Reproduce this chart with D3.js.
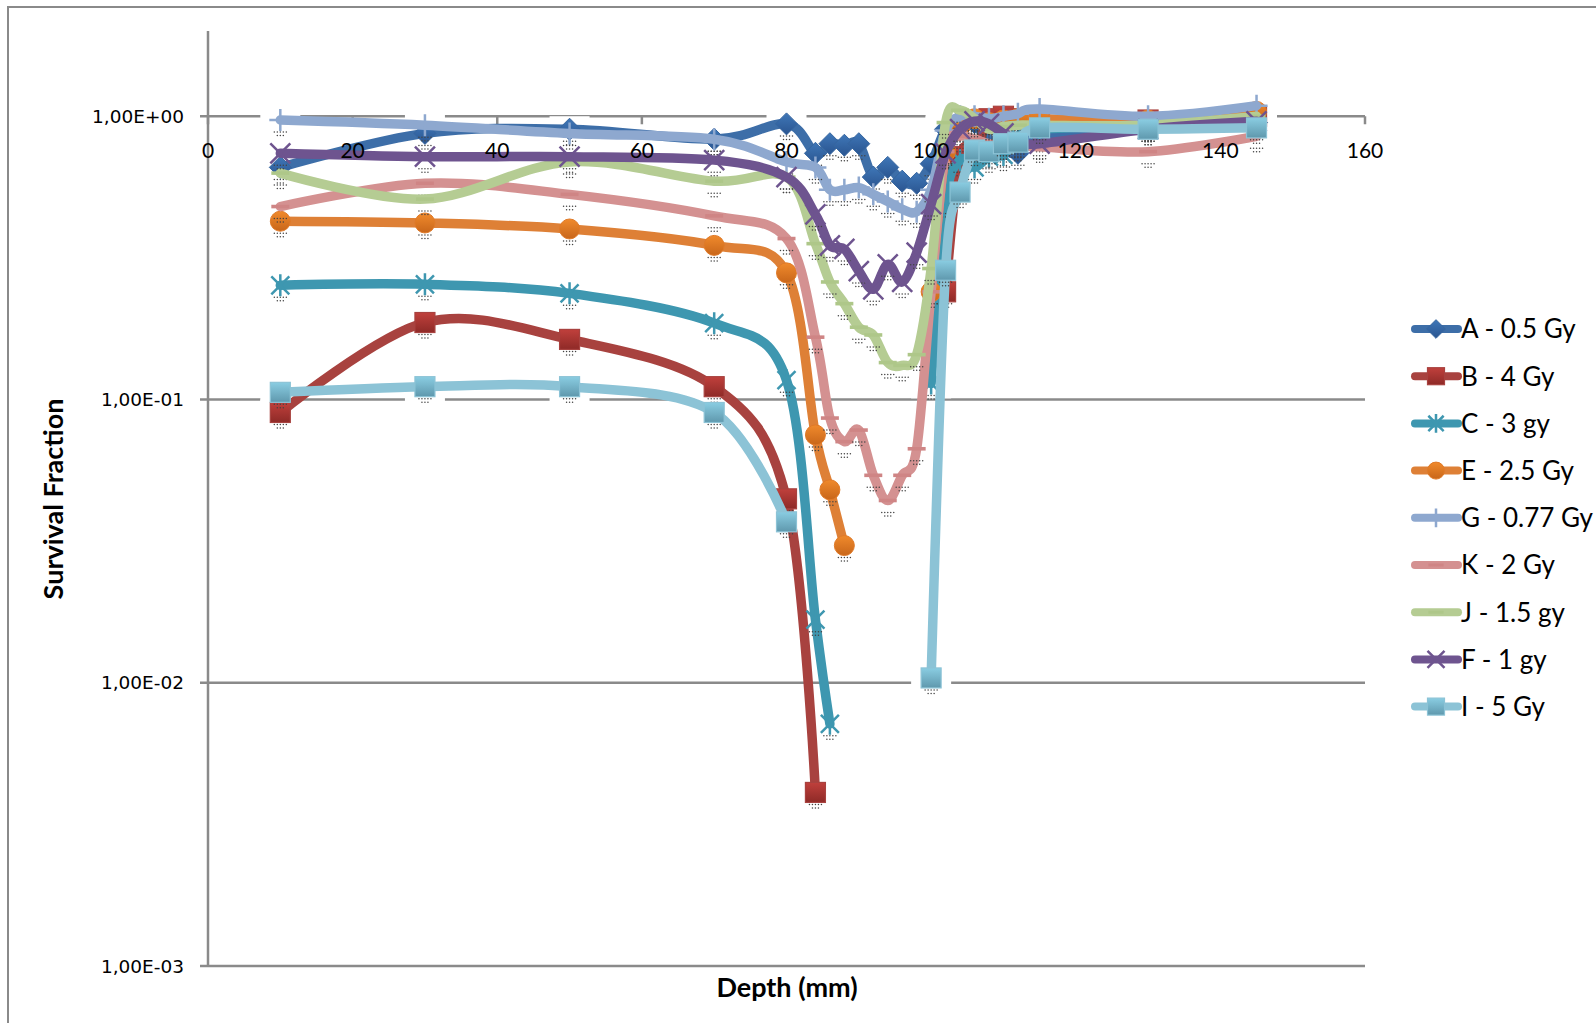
<!DOCTYPE html>
<html>
<head>
<meta charset="utf-8">
<script src="https://cdn.jsdelivr.net/npm/d3@7"></script>
<style>
  body { margin: 0; background: #fff; }
  svg { display: block; }
</style>
</head>
<body>
<div id="chart"></div>
<script>
// depth values (mm) shared by all series; null = no measurement
const depths = [10, 30, 50, 70, 80, 84, 86, 88, 90, 92, 94, 96, 98, 100, 102, 104, 106, 108, 110, 112, 115, 130, 145];

const valuesA = [0.66, 0.87, 0.90, 0.83, 0.94, 0.74, 0.80, 0.79, 0.80, 0.61, 0.66, 0.59, 0.58, 0.68, 0.90, 0.97, 0.95, 0.80, 0.76, 0.74, 0.85, 0.92, 0.95];
const valuesB = [0.090, 0.187, 0.163, 0.111, 0.0446, 0.0041, null, null, null, null, null, null, null, null, 0.24, 0.72, 0.75, 0.98, 1.0, 0.98, 0.97, 0.97, 1.0];
const valuesC = [0.253, 0.255, 0.237, 0.186, 0.117, 0.0167, 0.00716, null, null, null, null, null, null, 0.114, 0.5, 0.7, 0.66, 0.72, 0.73, 0.85, 0.9, 0.93, 0.95];
const valuesE = [0.426, 0.42, 0.40, 0.35, 0.28, 0.075, 0.048, 0.0305, null, null, null, null, null, 0.24, 0.75, 0.92, 0.98, 0.95, 0.97, 0.98, 0.98, 0.97, 1.04];
const valuesG = [0.97, 0.93, 0.87, 0.83, 0.69, 0.66, 0.55, 0.55, 0.56, 0.53, 0.50, 0.47, 0.46, 0.55, 0.89, 1.0, 1.0, 0.98, 1.0, 1.02, 1.06, 1.0, 1.09];
const valuesK = [0.48, 0.58, 0.53, 0.445, 0.37, 0.166, 0.086, 0.071, 0.078, 0.054, 0.044, 0.054, 0.067, 0.24, 0.75, 0.85, 0.83, 0.80, 0.80, 0.79, 0.78, 0.75, 0.85];
const valuesJ = [0.63, 0.51, 0.69, 0.59, 0.61, 0.355, 0.26, 0.218, 0.18, 0.169, 0.135, 0.132, 0.144, 0.29, 0.95, 1.05, 0.98, 0.90, 0.92, 0.93, 0.93, 0.93, 1.0];
const valuesF = [0.74, 0.72, 0.72, 0.70, 0.61, 0.45, 0.35, 0.34, 0.284, 0.245, 0.30, 0.26, 0.33, 0.49, 0.74, 0.90, 0.96, 0.94, 0.87, 0.82, 0.80, 0.90, 0.96];
const valuesI = [0.106, 0.111, 0.111, 0.09, 0.037, null, null, null, null, null, null, null, null, 0.0104, 0.286, 0.54, 0.76, 0.75, 0.80, 0.81, 0.91, 0.90, 0.91];

const seriesNames = ["A - 0.5 Gy", "B - 4 Gy", "C - 3 gy", "E - 2.5 Gy", "G - 0.77 Gy", "K - 2 Gy", "J - 1.5 gy", "F - 1 gy", "I - 5 Gy"];
const yTicks = [1, 0.1, 0.01, 0.001];
const xTicks = [0, 20, 40, 60, 80, 100, 120, 140, 160];

const series = [
  { name: seriesNames[0], values: valuesA, color: "#3d6ea8", marker: "diamond", fill: ["#3f77b8", "#2a5590"] },
  { name: seriesNames[1], values: valuesB, color: "#a8423f", marker: "square", fill: ["#c0403c", "#8e2a27"] },
  { name: seriesNames[2], values: valuesC, color: "#3e97b0", marker: "asterisk" },
  { name: seriesNames[3], values: valuesE, color: "#de8036", marker: "circle", fill: ["#f08a2c", "#c8661a"] },
  { name: seriesNames[4], values: valuesG, color: "#8ea8cf", marker: "plus" },
  { name: seriesNames[5], values: valuesK, color: "#d49191", marker: "dash", fill: ["#cf8585", "#cf8585"] },
  { name: seriesNames[6], values: valuesJ, color: "#b5cc93", marker: "dash", fill: ["#aec789", "#aec789"] },
  { name: seriesNames[7], values: valuesF, color: "#6e548f", marker: "x" },
  { name: seriesNames[8], values: valuesI, color: "#8cc3d6", marker: "square", fill: ["#8acde2", "#5f98ad"] }
];

const W = 1596, H = 1023;
const svg = d3.select("#chart").append("svg")
  .attr("width", W).attr("height", H);

// outer chart border
svg.append("rect")
  .attr("x", 8).attr("y", 7)
  .attr("width", W + 20).attr("height", H + 20)
  .attr("fill", "#fff")
  .attr("stroke", "#8a8a8a")
  .attr("stroke-width", 2);

const x = d3.scaleLinear().domain([0, 160]).range([208, 1365]);
const y = d3.scaleLog().domain([0.001, 2]).range([966, 31]);

const defs = svg.append("defs");
series.forEach((s, i) => {
  if (!s.fill) return;
  const g = defs.append("linearGradient").attr("id", "grad" + i)
    .attr("x1", 0).attr("y1", 0).attr("x2", 0).attr("y2", 1);
  g.append("stop").attr("offset", "0%").attr("stop-color", s.fill[0]);
  g.append("stop").attr("offset", "100%").attr("stop-color", s.fill[1]);
});

const gridColor = "#8a8a8a";

// horizontal gridlines
svg.append("g").selectAll("line")
  .data(yTicks)
  .enter().append("line")
  .attr("x1", 200).attr("x2", x(160))
  .attr("y1", d => y(d)).attr("y2", d => y(d))
  .attr("stroke", gridColor)
  .attr("stroke-width", 2.5);

// y axis line
svg.append("line")
  .attr("x1", x(0)).attr("x2", x(0))
  .attr("y1", y(2)).attr("y2", y(0.001))
  .attr("stroke", gridColor)
  .attr("stroke-width", 2.5);

// y tick labels
const fmt = v => {
  const e = Math.round(Math.log10(v));
  return "1,00E" + (e < 0 ? "-" : "+") + String(Math.abs(e)).padStart(2, "0");
};
svg.append("g").selectAll("text")
  .data(yTicks)
  .enter().append("text")
  .attr("x", 184)
  .attr("y", d => y(d))
  .attr("dy", "0.36em")
  .attr("text-anchor", "end")
  .style("font-family", "'DejaVu Sans', Verdana, sans-serif")
  .style("font-size", "18.5px")
  .style("fill", "#000")
  .text(fmt);

// x axis (crosses at 1)
const xAxisY = y(1);
svg.append("g").selectAll("line")
  .data(xTicks)
  .enter().append("line")
  .attr("x1", d => x(d)).attr("x2", d => x(d))
  .attr("y1", xAxisY).attr("y2", xAxisY + 8)
  .attr("stroke", gridColor)
  .attr("stroke-width", 2.5);

// white areas round each marker (hide the gridlines there)
const halo = svg.append("g");
series.forEach(s => {
  halo.selectAll(null)
    .data(depths.map((d, i) => ({ d, v: s.values[i] })).filter(p => p.v != null))
    .enter().append("rect")
    .attr("x", p => x(p.d) - 20)
    .attr("y", p => y(p.v) - 13)
    .attr("width", 40)
    .attr("height", 28)
    .attr("fill", "#fff");
});

const line = d3.line()
  .defined(p => p.v != null)
  .x(p => x(p.d))
  .y(p => y(p.v))
  .curve(d3.curveCardinal.tension(0));

function drawMarker(g, s, i, scale) {
  const k = scale || 1;
  switch (s.marker) {
    case "diamond":
      g.append("path").attr("d", `M0,${-11 * k}L${11 * k},0L0,${11 * k}L${-11 * k},0Z`)
        .attr("fill", `url(#grad${i})`).attr("stroke", "#35659f").attr("stroke-width", 1);
      break;
    case "square":
      g.append("rect").attr("x", -10 * k).attr("y", -10 * k)
        .attr("width", 20 * k).attr("height", 20 * k)
        .attr("fill", `url(#grad${i})`).attr("stroke", s.color).attr("stroke-width", 1.2);
      break;
    case "circle":
      g.append("circle").attr("r", 10 * k)
        .attr("fill", `url(#grad${i})`).attr("stroke", "#e07a28").attr("stroke-width", 1);
      break;
    case "dash":
      g.append("rect").attr("x", -9 * k).attr("y", -1.8 * k)
        .attr("width", 18 * k).attr("height", 3.6 * k)
        .attr("fill", `url(#grad${i})`);
      break;
    case "asterisk":
      g.append("path")
        .attr("d", `M${-9 * k},${-9 * k}L${9 * k},${9 * k}M${9 * k},${-9 * k}L${-9 * k},${9 * k}M0,${-11 * k}L0,${11 * k}`)
        .attr("stroke", s.color).attr("stroke-width", 2.5).attr("fill", "none");
      break;
    case "x":
      g.append("path")
        .attr("d", `M${-10 * k},${-10 * k}L${10 * k},${10 * k}M${10 * k},${-10 * k}L${-10 * k},${10 * k}`)
        .attr("stroke", s.color).attr("stroke-width", 2.5).attr("fill", "none");
      break;
    case "plus":
      g.append("path")
        .attr("d", `M0,${-11 * k}L0,${11 * k}M${-11 * k},0L${11 * k},0`)
        .attr("stroke", s.color).attr("stroke-width", 2.5).attr("fill", "none");
      break;
  }
}

// series, first drawn at the bottom
const plot = svg.append("g");
series.forEach((s, i) => {
  const pts = depths.map((d, j) => ({ d, v: s.values[j] }));
  plot.append("path")
    .datum(pts)
    .attr("fill", "none")
    .attr("stroke", s.color)
    .attr("stroke-width", 9.5)
    .attr("stroke-linecap", "round")
    .attr("stroke-linejoin", "round")
    .attr("d", line);

  pts.filter(p => p.v != null).forEach(p => {
    const mg = plot.append("g").attr("transform", `translate(${x(p.d)},${y(p.v)})`);
    // dotted shadow below the marker
    [-6, -3, 0, 3, 6].forEach(dx => mg.append("circle").attr("cx", dx).attr("cy", 12).attr("r", 0.75).attr("fill", "#444"));
    [-3, 0, 3].forEach(dx => mg.append("circle").attr("cx", dx).attr("cy", 15.5).attr("r", 0.75).attr("fill", "#444"));
    drawMarker(mg, s, i);
  });
});

// x tick labels sit above the series
svg.append("g").selectAll("text")
  .data(xTicks)
  .enter().append("text")
  .attr("x", d => x(d))
  .attr("y", xAxisY + 42)
  .attr("text-anchor", "middle")
  .style("font-family", "Lato, 'Open Sans', sans-serif")
  .style("font-size", "21px")
  .style("fill", "#000")
  .text(d => d);

// legend
const legend = svg.append("g");
series.forEach((s, i) => {
  const ly = 329 + i * 47.2;
  const lg = legend.append("g");
  lg.append("line")
    .attr("x1", 1415).attr("x2", 1458)
    .attr("y1", ly).attr("y2", ly)
    .attr("stroke", s.color)
    .attr("stroke-width", 8)
    .attr("stroke-linecap", "round");
  const mg = lg.append("g").attr("transform", `translate(1436,${ly})`);
  drawMarker(mg, s, i, 0.85);
  lg.append("text")
    .attr("x", 1461).attr("y", ly)
    .attr("dy", "0.36em")
    .style("font-family", "Lato, 'Open Sans', sans-serif")
    .style("font-size", "26px")
    .style("fill", "#000")
    .text(s.name);
});

// axis titles
svg.append("text")
  .attr("transform", `translate(63,499) rotate(-90)`)
  .attr("text-anchor", "middle")
  .style("font-family", "Lato, 'Open Sans', sans-serif")
  .style("font-weight", "bold")
  .style("font-size", "27px")
  .text("Survival Fraction");

svg.append("text")
  .attr("x", 787).attr("y", 997)
  .attr("text-anchor", "middle")
  .style("font-family", "Lato, 'Open Sans', sans-serif")
  .style("font-weight", "bold")
  .style("font-size", "27px")
  .text("Depth (mm)");
</script>
</body>
</html>
